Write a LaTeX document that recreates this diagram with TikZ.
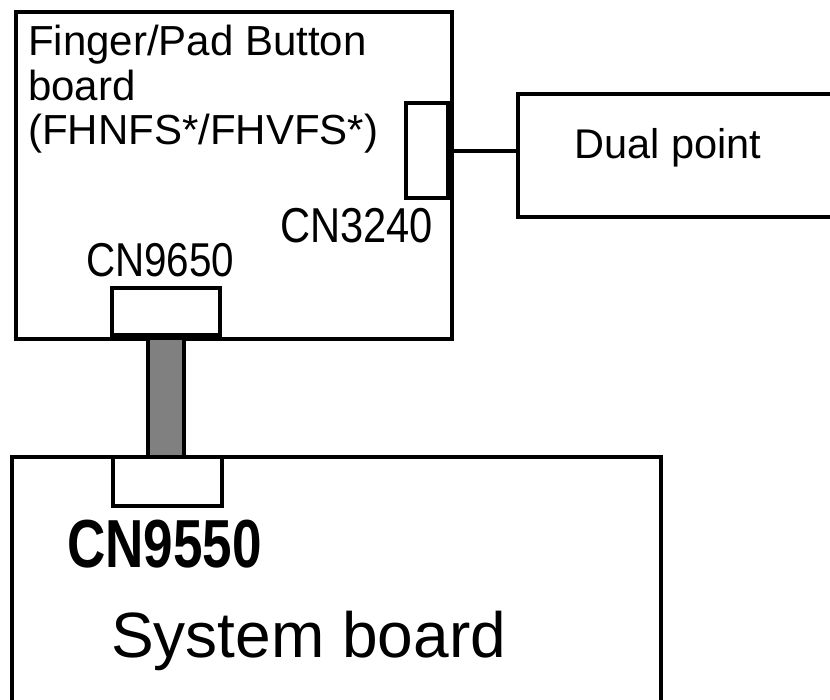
\documentclass[tikz,border=0pt]{standalone}
\usepackage{fontspec}
\setmainfont{Liberation Sans}
\newfontfamily\cnfont[FakeStretch=0.85]{Liberation Sans}
\newfontfamily\cnboldfont[FakeStretch=0.78]{Liberation Sans Bold}
\definecolor{cablegray}{RGB}{128, 128, 128}
\usetikzlibrary{positioning}

\begin{document}
\begin{tikzpicture}[
  x=1pt, y=-1pt,
  board/.style={draw, line width=4pt, inner sep=0pt, anchor=north west},
  conn/.style={draw, line width=4pt, fill=white, inner sep=0pt},
  cable/.style={draw, line width=3.5pt, fill=cablegray, inner sep=0pt},
  lbl/.style={inner sep=0pt, anchor=base west},
  cnlbl/.style={lbl, font=\cnfont\fontsize{46}{46}\selectfont}
]
  \useasboundingbox (0,0) rectangle (830,700);
  \node[board, minimum width=436pt, minimum height=327pt] (fpb) at (14,10) {};
  \node[board, minimum width=340pt, minimum height=122.5pt] (dp) at (515.5,92.5) {};
  \node[board, minimum width=649pt, minimum height=300pt] (sb) at (10,455) {};
  \node[conn, minimum width=42.5pt, minimum height=94.5pt, anchor=north east] (cn3240) at (450,101.5) {};
  \node[conn, minimum width=108pt, minimum height=47pt, anchor=south west] (cn9650) at (110,337) {};
  \node[cable, minimum width=36pt, minimum height=118pt, anchor=north] (cable) at (cn9650.south) {};
  \node[conn, minimum width=108.5pt, minimum height=49pt, anchor=north west] (cn9550) at (111,455) {};
  \draw[line width=4pt] (cn3240.east) -- (cn3240.east -| dp.west);

  \node[lbl, align=left, font=\fontsize{42}{44.5}\selectfont] (fpbtext) at (28,145) {Finger/Pad Button\\board\\(FHNFS*/FHVFS*)};
  \node[lbl, font=\fontsize{41.5}{41.5}\selectfont] (dptext) at (574,159) {Dual point};
  \node[lbl, font=\fontsize{64}{64}\selectfont] (sbtext) at (111,657) {System board};
  \node[cnlbl, font=\cnfont\fontsize{49}{49}\selectfont] (cn3240lbl) at (280,243) {CN3240};
  \node[cnlbl, font=\cnfont\fontsize{47.5}{47.5}\selectfont] (cn9650lbl) at (86,277) {CN9650};
  \node[lbl, font=\cnboldfont\fontsize{68}{68}\selectfont] (cn9550lbl) at (67,567) {CN9550};
\end{tikzpicture}
\end{document}
